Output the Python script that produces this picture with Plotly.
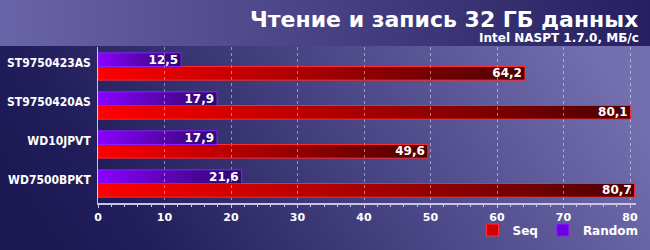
import base64
import plotly.graph_objects as go

# ---- data ----
drives = ["ST9750423AS", "ST9750420AS", "WD10JPVT", "WD7500BPKT"]
seq = [64.2, 80.1, 49.6, 80.7]
rnd = [12.5, 17.9, 17.9, 21.6]
x_ticks = [0, 10, 20, 30, 40, 50, 60, 70, 80]
title = "Чтение и запись 32 ГБ данных"
subtitle = "Intel NASPT 1.7.0, МБ/с"

W, H = 650, 250
ML, MR, MT, MB = 98, 14, 47, 47
PW, PH = W - ML - MR, H - MT - MB

BARGAP = 0.3
HALF = (1 - BARGAP) / 2


def svg_uri(svg):
    return "data:image/svg+xml;base64," + base64.b64encode(svg.encode("utf-8")).decode()


def hgrad(c0, c1, oid="g"):
    return svg_uri(
        "<svg xmlns='http://www.w3.org/2000/svg' width='100' height='10' viewBox='0 0 100 10' "
        "preserveAspectRatio='none'><defs><linearGradient id='%s' x1='0' y1='0' x2='1' y2='0'>"
        "<stop offset='0' stop-color='%s'/><stop offset='1' stop-color='%s'/></linearGradient></defs>"
        "<rect width='100' height='10' fill='url(#%s)'/></svg>" % (oid, c0, c1, oid)
    )


bg_svg = svg_uri(
    "<svg xmlns='http://www.w3.org/2000/svg' width='650' height='250' viewBox='0 0 650 250' "
    "preserveAspectRatio='none'><defs>"
    "<linearGradient id='h' x1='0' y1='0' x2='1' y2='0'>"
    "<stop offset='0' stop-color='#6a64a8'/><stop offset='1' stop-color='#262060'/></linearGradient>"
    "<linearGradient id='b' x1='0' y1='0.6' x2='1' y2='0.4'>"
    "<stop offset='0' stop-color='#1c1853'/><stop offset='0.15' stop-color='#221e5c'/>"
    "<stop offset='1' stop-color='#7470b0'/></linearGradient>"
    "</defs><rect width='650' height='46' fill='url(#h)'/>"
    "<rect y='46' width='650' height='204' fill='url(#b)'/></svg>"
)

seq_img = hgrad("#ff0000", "#4e0000", "r")
rnd_img = hgrad("#8a00ff", "#2c0868", "p")

fig = go.Figure()

ycat = list(reversed(drives))  # bottom-to-top order on the axis
txtfont = dict(color="white", size=12, family="DejaVu Sans", weight="bold")

fig.add_trace(go.Bar(
    name="Seq", y=drives, x=seq, orientation="h", offsetgroup="s",
    marker=dict(color="rgba(0,0,0,0)", line=dict(color="#ff2a2a", width=1)),
    texttemplate="%{x:.1f}", textposition="inside", insidetextanchor="end",
    constraintext="none", textfont=txtfont, showlegend=False,
))
fig.add_trace(go.Bar(
    name="Random", y=drives, x=rnd, orientation="h", offsetgroup="r",
    marker=dict(color="rgba(0,0,0,0)", line=dict(color="#8a20ff", width=1)),
    texttemplate="%{x:.1f}", textposition="inside", insidetextanchor="end",
    constraintext="none", textfont=txtfont, showlegend=False,
))
# legend entries
fig.add_trace(go.Bar(name="Seq", y=[None], x=[None], orientation="h", offsetgroup="s",
                     marker=dict(color="#d00000", line=dict(color="#ff3030", width=1)),
                     showlegend=True))
fig.add_trace(go.Bar(name="Random", y=[None], x=[None], orientation="h", offsetgroup="r",
                     marker=dict(color="#6a00e0", line=dict(color="#8a20ff", width=1)),
                     showlegend=True))

images = [dict(source=bg_svg, xref="paper", yref="paper",
               x=-ML / PW, y=1 + MT / PH, sizex=W / PW, sizey=H / PH,
               xanchor="left", yanchor="top", sizing="stretch", layer="below")]
for name, v in zip(drives, seq):
    pos = ycat.index(name)
    images.append(dict(source=seq_img, xref="x", yref="y", x=0, y=pos, sizex=v, sizey=HALF,
                       xanchor="left", yanchor="top", sizing="stretch", layer="below"))
for name, v in zip(drives, rnd):
    pos = ycat.index(name)
    images.append(dict(source=rnd_img, xref="x", yref="y", x=0, y=pos + HALF, sizex=v, sizey=HALF,
                       xanchor="left", yanchor="top", sizing="stretch", layer="below"))

fig.update_layout(
    width=W, height=H,
    margin=dict(l=ML, r=MR, t=MT, b=MB, autoexpand=False),
    paper_bgcolor="#2a2662", plot_bgcolor="rgba(0,0,0,0)",
    barmode="group", bargap=BARGAP, bargroupgap=0,
    separators=", ",
    images=images,
    font=dict(family="DejaVu Sans", color="white", size=12),
    showlegend=True,
    legend=dict(orientation="h", xref="container", yref="container",
                x=0.99, xanchor="right", y=20 / H, yanchor="middle",
                font=dict(size=12, weight="bold", color="white"),
                bgcolor="rgba(0,0,0,0)", traceorder="normal", itemwidth=30),
    annotations=[
        dict(text="<b>%s</b>" % title, xref="paper", yref="paper", x=(640 - ML) / PW,
             y=1 + 27 / PH, xanchor="right", yanchor="middle", showarrow=False,
             font=dict(size=22, color="white", family="DejaVu Sans")),
        dict(text="<b>%s</b>" % subtitle, xref="paper", yref="paper", x=(641 - ML) / PW,
             y=1 + 9 / PH, xanchor="right", yanchor="middle", showarrow=False,
             font=dict(size=12, color="white", family="DejaVu Sans")),
    ],
)
fig.update_xaxes(range=[0, 80.9], tickvals=x_ticks, showgrid=True, automargin=False,
                 gridcolor="rgba(255,255,255,0.45)", griddash="dot", gridwidth=1,
                 showline=True, linecolor="#c8c4e8", linewidth=2,
                 ticks="outside", ticklen=3, tickcolor="#c8c4e8",
                 minor=dict(dtick=2, ticks="outside", ticklen=2, tickcolor="#c8c4e8"),
                 tickfont=dict(size=11, color="white", weight="bold"), zeroline=False)
fig.update_yaxes(categoryorder="array", categoryarray=ycat, range=[-0.5, 3.5], automargin=False,
                 showline=True, linecolor="#c8c4e8", linewidth=1, ticks="",
                 ticklabelshift=-4,
                 tickfont=dict(size=12, color="white", weight="bold",
                               family="DejaVu Sans Condensed"), ticksuffix=" ")

fig.write_html("out.html")
